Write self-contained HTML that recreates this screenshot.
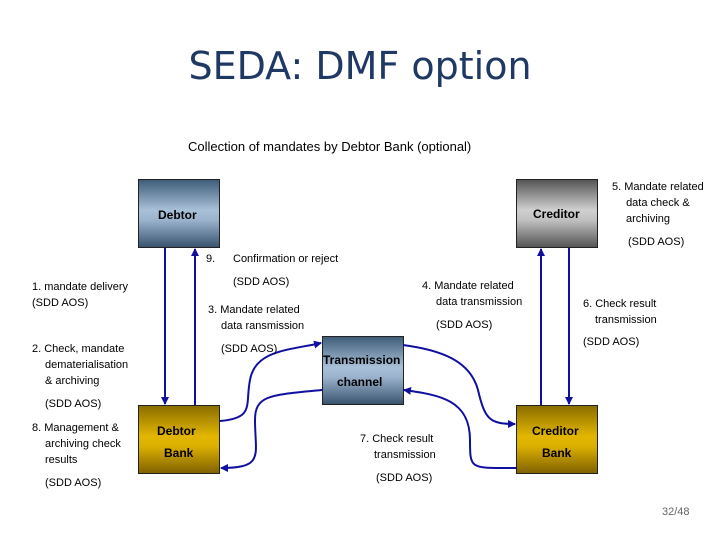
<!DOCTYPE html>
<html><head><meta charset="utf-8"><style>
body{margin:0;width:720px;height:540px;background:#fff;position:relative;overflow:hidden;font-family:"Liberation Sans",sans-serif}
.t{position:absolute;font-size:11px;color:#000;line-height:16px;white-space:nowrap}
.box{position:absolute;width:82px;height:69px;box-sizing:border-box;border:1px solid #222;font-weight:bold;font-size:12px}
.blue{background:linear-gradient(#3f5d7a,#a9c0d8 45%,#9ab2cc 60%,#3a5470)}
.gray{background:linear-gradient(#555,#d0d0d0 45%,#c0c0c0 60%,#555)}
.gold{background:linear-gradient(#8a6e00,#e2b600 45%,#dcb000 60%,#806200)}
</style></head><body>
<div style="position:absolute;left:0;width:720px;top:44px;text-align:center;font-size:38px;color:#1f3864;font-family:'DejaVu Sans','Liberation Sans',sans-serif">SEDA: DMF option</div>
<div class="t" style="left:188px;top:139px;font-size:13px">Collection of mandates by Debtor Bank (optional)</div>

<div class="box blue" style="left:138px;top:179px"><span style="position:absolute;left:19px;top:28px">Debtor</span></div>
<div class="box gray" style="left:516px;top:179px"><span style="position:absolute;left:16px;top:27px">Creditor</span></div>
<div class="box blue" style="left:322px;top:336px"><span style="position:absolute;left:0;top:16px">Transmission</span><span style="position:absolute;left:14px;top:38px">channel</span></div>
<div class="box gold" style="left:138px;top:405px"><span style="position:absolute;left:18px;top:18px">Debtor</span><span style="position:absolute;left:25px;top:40px">Bank</span></div>
<div class="box gold" style="left:516px;top:405px"><span style="position:absolute;left:15px;top:18px">Creditor</span><span style="position:absolute;left:25px;top:40px">Bank</span></div>

<svg width="720" height="540" style="position:absolute;left:0;top:0">
<defs><marker id="a" markerWidth="8" markerHeight="8" refX="7" refY="4" orient="auto" markerUnits="userSpaceOnUse"><path d="M0,0 L8,4 L0,8z" fill="#1010a0"/></marker></defs>
<g stroke="#1010a0" stroke-width="2" fill="none" marker-end="url(#a)">
<line x1="165" y1="248" x2="165" y2="404"/>
<line x1="195" y1="405" x2="195" y2="249"/>
<line x1="541" y1="405" x2="541" y2="249"/>
<line x1="569" y1="248" x2="569" y2="404"/>
<path d="M220,421 C255,418 245,405 250,380 C255,350 290,350 321,343"/>
<path d="M322,390 C270,395 255,395 255,420 C255,455 265,468 221,468"/>
<path d="M403,345 C440,350 470,360 478,390 C485,420 490,424 515,424"/>
<path d="M516,468 C470,468 470,470 470,440 C470,400 440,395 404,390"/>
</g></svg>

<div class="t" style="left:612px;top:179px;text-align:center;line-height:16px">5. Mandate related<br><span style="margin-left:0">data check &amp;</span></div>
<div class="t" style="left:626px;top:211px">archiving</div>
<div class="t" style="left:628px;top:234px">(SDD AOS)</div>
<div class="t" style="left:206px;top:251px">9.</div>
<div class="t" style="left:233px;top:251px">Confirmation or reject</div>
<div class="t" style="left:233px;top:274px">(SDD AOS)</div>
<div class="t" style="left:32px;top:279px">1. mandate delivery</div>
<div class="t" style="left:32px;top:295px">(SDD AOS)</div>
<div class="t" style="left:422px;top:278px">4. Mandate related</div>
<div class="t" style="left:436px;top:294px">data transmission</div>
<div class="t" style="left:436px;top:317px">(SDD AOS)</div>
<div class="t" style="left:208px;top:302px">3. Mandate related</div>
<div class="t" style="left:221px;top:318px">data ransmission</div>
<div class="t" style="left:221px;top:341px">(SDD AOS)</div>
<div class="t" style="left:583px;top:296px">6. Check result</div>
<div class="t" style="left:595px;top:312px">transmission</div>
<div class="t" style="left:583px;top:334px">(SDD AOS)</div>
<div class="t" style="left:32px;top:341px">2. Check, mandate</div>
<div class="t" style="left:45px;top:357px">dematerialisation</div>
<div class="t" style="left:45px;top:373px">&amp; archiving</div>
<div class="t" style="left:45px;top:396px">(SDD AOS)</div>
<div class="t" style="left:32px;top:420px">8. Management &amp;</div>
<div class="t" style="left:45px;top:436px">archiving check</div>
<div class="t" style="left:45px;top:452px">results</div>
<div class="t" style="left:45px;top:475px">(SDD AOS)</div>
<div class="t" style="left:360px;top:431px">7. Check result</div>
<div class="t" style="left:374px;top:447px">transmission</div>
<div class="t" style="left:376px;top:470px">(SDD AOS)</div>
<div class="t" style="left:662px;top:504px;color:#666">32/48</div>
</body></html>
